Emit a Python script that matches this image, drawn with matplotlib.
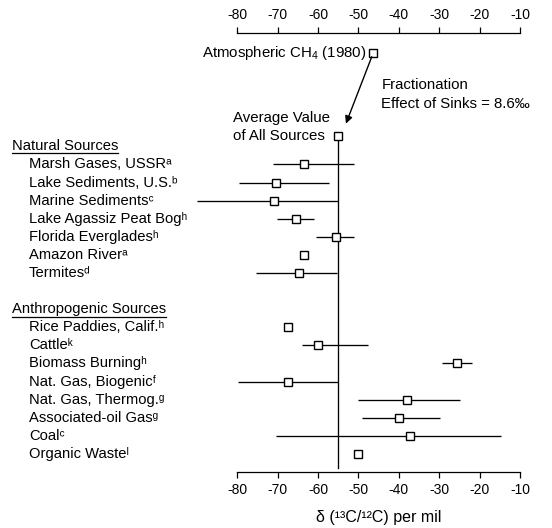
import numpy as np
import matplotlib
matplotlib.use('Agg')
import matplotlib.pyplot as plt
from matplotlib.transforms import blended_transform_factory

plt.rcParams['font.family'] = ['Liberation Sans', 'DejaVu Sans']
plt.rcParams['mathtext.fontset'] = 'custom'
plt.rcParams['mathtext.rm'] = 'Liberation Sans'
plt.rcParams['mathtext.it'] = 'Liberation Sans:italic'

# delta 13C values (per mil)
natural_names = ['Marsh Gases, USSR', 'Lake Sediments, U.S.', 'Marine Sediments',
                 'Lake Agassiz Peat Bog', 'Florida Everglades', 'Amazon River', 'Termites']
natural_notes = ['ᵃ', 'ᵇ', 'ᶜ', 'ʰ', 'ʰ', 'ᵃ', 'ᵈ']
natural_mean = [-63.5, -70.4, -71.0, -65.4, -55.5, -63.6, -64.7]
natural_low = [-71.2, -79.5, -90.0, -70.2, -60.4, np.nan, -75.4]
natural_high = [-51.0, -57.2, -55.0, -61.0, -51.0, np.nan, -55.3]

anthro_names = ['Rice Paddies, Calif.', 'Cattle', 'Biomass Burning', 'Nat. Gas, Biogenic',
                'Nat. Gas, Thermog.', 'Associated-oil Gas', 'Coal', 'Organic Waste']
anthro_notes = ['ʰ', 'ᵏ', 'ʰ', 'ᶠ', 'ᵍ', 'ᵍ', 'ᶜ', 'ˡ']
anthro_mean = [-67.5, -60.1, -25.6, -67.5, -38.0, -40.0, -37.3, -50.0]
anthro_low = [np.nan, -63.9, -29.4, -79.9, -50.0, -49.0, -70.4, np.nan]
anthro_high = [np.nan, -47.7, -21.8, -55.0, -24.9, -29.8, -14.6, np.nan]

avg_all = -55.0
atmos_1980 = -46.4
sink_effect = 8.6
xticks = [-80, -70, -60, -50, -40, -30, -20, -10]

fig = plt.figure(figsize=(5.52, 5.28), dpi=100)
ax = fig.add_axes([0.4299, 0.1061, 0.5121, 0.8314])
ax.set_xlim(-80, -10)
ax.set_ylim(17.0, -7.27)

# row positions
y_nat = np.arange(len(natural_names))
y_ant = np.arange(len(anthro_names)) + len(natural_names) + 2
y_avg = -1.57
y_atm = -6.14

means = natural_mean + anthro_mean
lows = natural_low + anthro_low
highs = natural_high + anthro_high
ys = np.concatenate([y_nat, y_ant])

lw = 0.95
# vertical line at average of all sources
ax.plot([avg_all, avg_all], [y_avg, 16.8], color='black', lw=lw, clip_on=False, zorder=2)
ax.hlines(ys, lows, highs, color='black', lw=lw, clip_on=False, zorder=2)
mk = dict(marker='s', ms=6.3, mfc='white', mec='black', mew=1.0, ls='none', clip_on=False, zorder=3)
ax.plot(means, ys, **mk)
ax.plot([avg_all], [y_avg], **mk)
ax.plot([atmos_1980], [y_atm], **mk)

fs = 10.8
ax.text(-48.1, y_atm, 'Atmospheric CH$_4$ (1980)', ha='right', va='center', fontsize=fs)
ax.text(-44.3, -4.39, 'Fractionation', ha='left', va='center', fontsize=fs)
ax.text(-44.3, -3.33, 'Effect of Sinks = %.1f\u2030' % sink_effect, ha='left', va='center', fontsize=fs)
ax.text(-81.0, -2.56, 'Average Value', ha='left', va='center', fontsize=fs)
ax.text(-81.0, -1.57, 'of All Sources', ha='left', va='center', fontsize=fs)
ax.annotate('', xy=(-53.1, -2.26), xytext=(-46.7, -5.96),
            arrowprops=dict(arrowstyle='-|>', color='black', lw=1.0,
                            mutation_scale=11, shrinkA=0, shrinkB=0),
            annotation_clip=False)

# left labels
trans = blended_transform_factory(fig.transFigure, ax.transData)
x_lab = 29 / 552
x_head = 11.5 / 552
fs_lab = 10.6
for name, note, y in zip(natural_names + anthro_names, natural_notes + anthro_notes, ys):
    ax.text(x_lab, y, name + note, transform=trans,
            ha='left', va='center', fontsize=fs_lab)
heads = []
for title, y in [('Natural Sources', -1.05), ('Anthropogenic Sources', 8.0)]:
    t = ax.text(x_head, y, title, transform=trans, ha='left', va='center', fontsize=fs_lab)
    heads.append((t, y))

# axes styling
for s in ['left', 'right']:
    ax.spines[s].set_visible(False)
for s in ['top', 'bottom']:
    ax.spines[s].set_linewidth(0.9)
ax.set_yticks([])
ax.set_xticks(xticks)
ax.set_xticklabels([str(v) for v in xticks])
ax.tick_params(axis='x', top=True, labeltop=True, bottom=True, labelbottom=True,
               direction='out', length=4, width=0.9, labelsize=10, pad=4)
ax.set_xlabel('\u03b4 (\u00b9\u00b3C/\u00b9\u00b2C) per mil', fontsize=11.5, labelpad=9)

# underline the group headings
fig.canvas.draw()
r = fig.canvas.get_renderer()
for t, y in heads:
    bb = t.get_window_extent(renderer=r)
    x0 = bb.x0 / fig.bbox.width
    x1 = bb.x1 / fig.bbox.width
    ax.plot([x0, x1], [y + 0.42, y + 0.42], transform=trans, color='black', lw=0.9, clip_on=False)

fig.savefig('out.png', dpi=100)
